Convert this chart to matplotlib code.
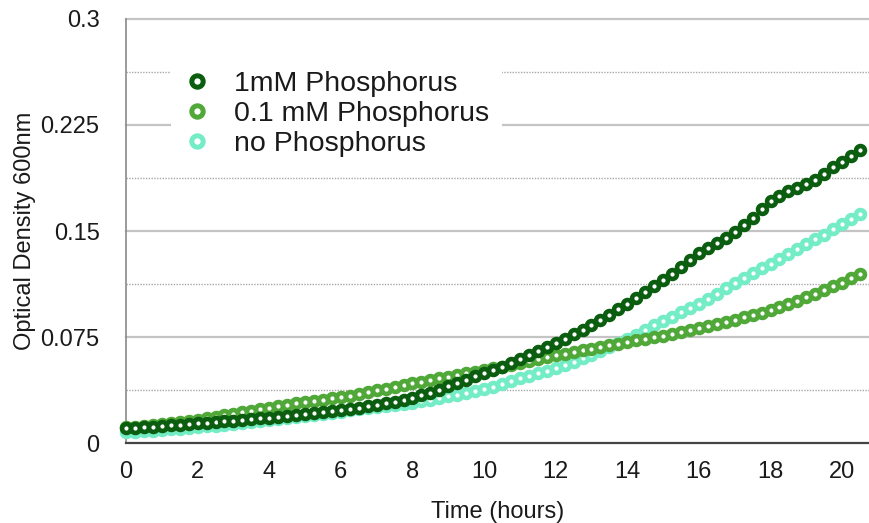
import matplotlib
matplotlib.use("Agg")
import matplotlib.pyplot as plt
import numpy as np
from matplotlib.lines import Line2D

plt.rcParams['font.family'] = ['Liberation Sans', 'DejaVu Sans']

# time in hours, one reading every 15 minutes
hours = [i * 0.25 for i in range(83)]

od_1mM = [
    0.0105,
    0.0109, 0.0112, 0.0116, 0.0120,
    0.0124, 0.0129, 0.0133, 0.0138,
    0.0143, 0.0148, 0.0153, 0.0158,
    0.0163, 0.0169, 0.0174, 0.0180,
    0.0186, 0.0191, 0.0197, 0.0203,
    0.0210, 0.0217, 0.0224, 0.0232,
    0.0241, 0.0250, 0.0260, 0.0270,
    0.0281, 0.0293, 0.0306, 0.0320,
    0.0337, 0.0356, 0.0377, 0.0400,
    0.0423, 0.0447, 0.0471, 0.0495,
    0.0518, 0.0541, 0.0566, 0.0592,
    0.0620, 0.0648, 0.0676, 0.0705,
    0.0737, 0.0769, 0.0802, 0.0835,
    0.0870, 0.0907, 0.0946, 0.0985,
    0.1025, 0.1066, 0.1108, 0.1150,
    0.1195, 0.1243, 0.1294, 0.1345,
    0.1380, 0.1415, 0.1450, 0.1490,
    0.1540, 0.1595, 0.1655, 0.1710,
    0.1750, 0.1780, 0.1805, 0.1830,
    0.1860, 0.1900, 0.1950, 0.1990,
    0.2030, 0.2070,
]

od_01mM = [
    0.0110,
    0.0116, 0.0122, 0.0128, 0.0135,
    0.0142, 0.0149, 0.0157, 0.0165,
    0.0175, 0.0186, 0.0197, 0.0208,
    0.0218, 0.0229, 0.0239, 0.0250,
    0.0260, 0.0270, 0.0280, 0.0290,
    0.0299, 0.0307, 0.0316, 0.0325,
    0.0336, 0.0348, 0.0360, 0.0372,
    0.0385, 0.0397, 0.0410, 0.0422,
    0.0434, 0.0446, 0.0458, 0.0470,
    0.0482, 0.0493, 0.0505, 0.0516,
    0.0529, 0.0541, 0.0555, 0.0568,
    0.0581, 0.0594, 0.0607, 0.0620,
    0.0632, 0.0644, 0.0656, 0.0668,
    0.0680, 0.0692, 0.0703, 0.0715,
    0.0726, 0.0737, 0.0749, 0.0760,
    0.0773, 0.0786, 0.0799, 0.0812,
    0.0827, 0.0842, 0.0857, 0.0872,
    0.0888, 0.0905, 0.0922, 0.0940,
    0.0962, 0.0985, 0.1007, 0.1030,
    0.1056, 0.1082, 0.1108, 0.1135,
    0.1165, 0.1195,
]

od_noP = [
    0.0075,
    0.0079, 0.0083, 0.0087, 0.0092,
    0.0097, 0.0102, 0.0107, 0.0112,
    0.0118, 0.0123, 0.0129, 0.0135,
    0.0142, 0.0148, 0.0155, 0.0162,
    0.0169, 0.0177, 0.0184, 0.0192,
    0.0199, 0.0207, 0.0214, 0.0222,
    0.0230, 0.0238, 0.0247, 0.0255,
    0.0262, 0.0270, 0.0277, 0.0285,
    0.0295, 0.0305, 0.0317, 0.0330,
    0.0342, 0.0355, 0.0367, 0.0380,
    0.0398, 0.0418, 0.0439, 0.0460,
    0.0477, 0.0495, 0.0512, 0.0530,
    0.0553, 0.0576, 0.0600, 0.0625,
    0.0652, 0.0679, 0.0707, 0.0735,
    0.0767, 0.0799, 0.0832, 0.0865,
    0.0895, 0.0925, 0.0955, 0.0985,
    0.1021, 0.1057, 0.1094, 0.1130,
    0.1165, 0.1200, 0.1235, 0.1270,
    0.1304, 0.1338, 0.1371, 0.1405,
    0.1440, 0.1475, 0.1512, 0.1550,
    0.1585, 0.1620,
]

series_labels = ["1mM Phosphorus", "0.1 mM Phosphorus", "no Phosphorus"]
series_colors = ["#0b5d0f", "#50a838", "#74ecc6"]

x_ticks = [0, 2, 4, 6, 8, 10, 12, 14, 16, 18, 20]
y_ticks = [0, 0.075, 0.15, 0.225, 0.3]
y_tick_labels = ["0", "0.075", "0.15", "0.225", "0.3"]
y_minor = [0.0375, 0.1125, 0.1875, 0.2625]

fig = plt.figure(figsize=(8.69, 5.23), dpi=100)
ax = fig.add_axes([126 / 869, 80 / 523, 743 / 869, 424 / 523])

ax.set_xlim(0, 20.75)
ax.set_ylim(0, 0.3)

# gridlines
for y in y_ticks[1:]:
    ax.axhline(y, color="#c4c4c4", lw=1.6, zorder=0, clip_on=False)
for y in y_minor:
    ax.axhline(y, color="#a8a8a8", lw=1.0, ls=(0, (1, 1)), zorder=0)

series = [od_noP, od_01mM, od_1mM]
order_colors = [series_colors[2], series_colors[1], series_colors[0]]
for vals, col, z in zip(series, order_colors, [3, 4, 5]):
    ax.plot(hours, vals, ls="none", marker="o", ms=6.4, mew=3.3,
            mec=col, mfc="white", zorder=z, clip_on=False)

ax.set_xticks(x_ticks)
ax.set_xticklabels([str(t) for t in x_ticks])
ax.set_yticks(y_ticks)
ax.set_yticklabels(y_tick_labels)
ax.tick_params(axis="both", length=0, labelsize=17, colors="#1a1a1a")
ax.tick_params(axis="x", pad=13)
ax.tick_params(axis="y", pad=19)

for s in ["top", "right"]:
    ax.spines[s].set_visible(False)
ax.spines["left"].set_color("#8a8a8a")
ax.spines["left"].set_linewidth(1.2)
ax.spines["bottom"].set_color("#444444")
ax.spines["bottom"].set_linewidth(1.6)

ax.set_xlabel("Time (hours)", fontsize=17, color="#1a1a1a", labelpad=13)
ax.set_ylabel("Optical Density 600nm", fontsize=17, color="#1a1a1a", labelpad=3)

handles = [Line2D([], [], ls="none", marker="o", ms=8.2, mew=3.6,
                  mec=c, mfc="white") for c in series_colors]
leg = ax.legend(handles, series_labels, loc="upper left",
                bbox_to_anchor=(0.0606, 0.908), borderaxespad=0,
                fontsize=20.5, frameon=True, facecolor="white", edgecolor="none",
                framealpha=1, borderpad=0.45, handlelength=0.95,
                handletextpad=0.8, labelspacing=0.14)
leg.set_zorder(6)
for t in leg.get_texts():
    t.set_color("#1a1a1a")

fig.savefig("out.png", dpi=100)
